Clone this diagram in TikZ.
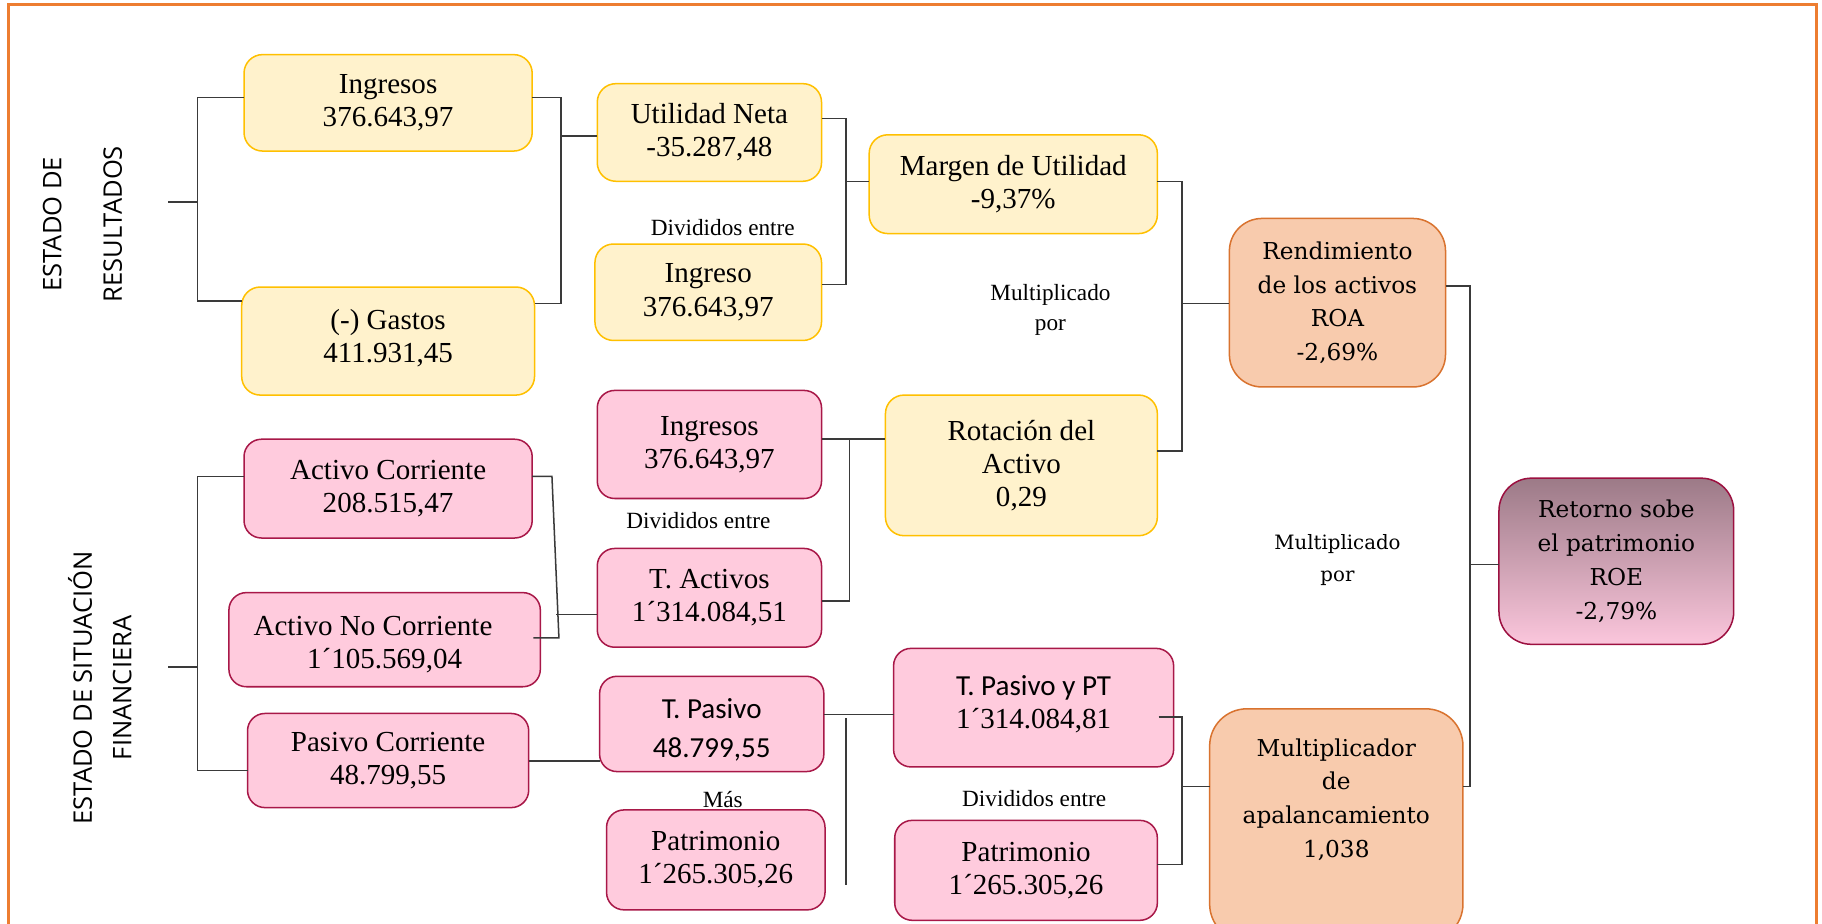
\documentclass[tikz,border=0pt]{standalone}
\usepackage{fontspec}
\setmainfont{Liberation Serif}
\newfontfamily\carl{Carlito}
\newfontfamily\dvs{DejaVu Serif}
\newfontfamily\osans{Open Sans}
\usetikzlibrary{calc}
\definecolor{yelFill}{HTML}{FFF2CC}
\definecolor{yelDraw}{HTML}{FFC000}
\definecolor{pinkFill}{HTML}{FFCBDD}
\definecolor{pinkDraw}{HTML}{A81848}
\definecolor{peachFill}{HTML}{F8CBAD}
\definecolor{peachDraw}{HTML}{D9732F}
\definecolor{roeTop}{HTML}{9C7A87}
\definecolor{roeBot}{HTML}{FBC6DC}
\definecolor{roeDraw}{HTML}{9C1040}
\definecolor{frameCol}{HTML}{ED7D31}
\definecolor{lineCol}{HTML}{3A3A3A}
\tikzset{
  basebox/.style={inner sep=0pt, outer sep=0pt, align=center, line width=1.3pt,
    font=\fontsize{25}{28.5}\selectfont},
  ybox/.style={basebox, fill=yelFill, draw=yelDraw, rounded corners=16pt},
  pbox/.style={basebox, fill=pinkFill, draw=pinkDraw, rounded corners=15pt},
  obox/.style={basebox, fill=peachFill, draw=peachDraw, rounded corners=28pt,
    font=\dvs\fontsize{20}{29}\selectfont},
  conn/.style={draw=lineCol, line width=1.3pt},
  lbl/.style={inner sep=0pt, align=center, font=\fontsize{20}{26}\selectfont},
  lblb/.style={inner sep=0pt, align=center, font=\dvs\fontsize{17}{27}\selectfont},
}
\begin{document}
\begin{tikzpicture}[x=1pt,y=-1pt]
\useasboundingbox (0,0) rectangle (1568,795);
\clip (0,0) rectangle (1568,795);
\fill[white] (0,0) rectangle (1568,795);
\draw[frameCol, line width=2.6pt] (7,4) rectangle (1563,830);

% vertical section labels
\node[rotate=90, inner sep=0pt, align=center, font=\osans\fontsize{22}{52}\selectfont] (er) at (71,193) {ESTADO DE\\RESULTADOS};
\node[rotate=90, inner sep=0pt, align=center, font=\osans\fontsize{22}{34}\selectfont] (esf) at (86,592) {ESTADO DE SITUACIÓN\\FINANCIERA};

% yellow boxes
\node[ybox, minimum width=248pt, minimum height=83pt] (ing1) at (334,88.5) {Ingresos\\376.643,97};
\node[ybox, minimum width=252pt, minimum height=93pt] (gas) at (334,293.5) {(-) Gastos\\411.931,45\\[-19pt]\mbox{}};
\node[ybox, minimum width=193pt, minimum height=84pt] (utn) at (610.5,114) {Utilidad Neta\\-35.287,48};
\node[ybox, minimum width=195pt, minimum height=83pt] (ing2) at (609.5,251.5) {Ingreso\\376.643,97};
\node[ybox, minimum width=248pt, minimum height=85pt] (mar) at (872,158.5) {Margen de Utilidad\\-9,37\%};
\node[ybox, minimum width=234pt, minimum height=121pt] (rot) at (879,400.5) {Rotación del\\Activo\\0,29};

% pink boxes
\node[pbox, minimum width=193pt, minimum height=93pt] (ing3) at (610.5,382.5) {Ingresos\\376.643,97};
\node[pbox, minimum width=193pt, minimum height=85pt] (tac) at (610.5,514.5) {T. Activos\\1´314.084,51};
\node[pbox, minimum width=248pt, minimum height=85pt] (ac) at (334,420.5) {Activo Corriente\\208.515,47};
\node[pbox, minimum width=268pt, minimum height=81pt] (anc) at (331,550.5) {\mbox{}\\[-3.5pt]Activo No Corriente\hspace*{20pt}\mbox{}\\1´105.569,04};
\node[pbox, minimum width=193pt, minimum height=82pt, font=\carl\fontsize{25}{28.5}\selectfont] (tpa) at (612.5,623) {\mbox{}\\[-1pt]T. Pasivo\\[4.5pt]48.799,55};
\node[pbox, minimum width=242pt, minimum height=81pt] (pc) at (334,654.5) {Pasivo Corriente\\48.799,55};
\node[pbox, minimum width=188pt, minimum height=86pt] (pat1) at (616,740) {Patrimonio\\1´265.305,26};
\node[pbox, minimum width=241pt, minimum height=102pt] (tppt) at (889.5,609) {{\carl T. Pasivo y PT}\\1´314.084,81\\[-19pt]\mbox{}};
\node[pbox, minimum width=226pt, minimum height=86pt] (pat2) at (883,749) {Patrimonio\\1´265.305,26};

% orange boxes
\node[obox, minimum width=186pt, minimum height=145pt] (roa) at (1151,260.5) {Rendimiento\\de los activos\\ROA\\-2,69\%};
\node[obox, minimum width=218pt, minimum height=200pt, rounded corners=32pt] (mul) at (1150,710) {};
\node[inner sep=0pt, align=center, font=\dvs\fontsize{20}{29}\selectfont] (multxt) at (1150,688) {Multiplicador\\de\\apalancamiento\\1,038};
\node[obox, minimum width=202pt, minimum height=143pt, draw=roeDraw, top color=roeTop, bottom color=roeBot] (roe) at (1391,483) {Retorno sobe\\el patrimonio\\ROE\\-2,79\%};

% labels
\node[lbl] (d1) at (622,196) {Divididos entre};
\node[lbl] (d2) at (601,448) {Divididos entre};
\node[lbl] (d3) at (890,687) {Divididos entre};
\node[lbl] (mas) at (622,688) {Más};
\node[lbl] (m1) at (904,267) {Multiplicado\\por};
\node[lblb] (m2) at (1151,482) {Multiplicado\\por};

% coordinates
\coordinate (stub1) at (145,174);
\coordinate (br1) at (170,174);
\coordinate (rb1) at (483,117);
\coordinate (c2) at (728,156);
\coordinate (c3) at (1017,261);
\coordinate (c4) at (1265,486);
\coordinate (c5) at (731,378);
\coordinate (c6a) at (475,410);
\coordinate (c6b) at (481,549);
\coordinate (c6m) at (478.5,529);
\coordinate (stub2) at (145,574);
\coordinate (br2) at (170,574);
\coordinate (v1) at (728,618);
\coordinate (v2) at (728,762);
\coordinate (c7) at (1017,677);

% connectors
\draw[conn] (ing1.west |- 0,84) -| (br1) |- (gas.west |- 0,259);
\draw[conn] (stub1) -- (br1);
\draw[conn] (ing1.east |- 0,84) -| (rb1) |- (gas.east |- 0,261);
\draw[conn] (rb1) -- (utn.west |- rb1);
\draw[conn] (utn.east |- 0,102) -| (c2) |- (ing2.east |- 0,245);
\draw[conn] (c2) -- (mar.west |- c2);
\draw[conn] (mar.east |- 0,156) -| (c3) |- (rot.east |- 0,388);
\draw[conn] (c3) -- (roa.west |- c3);
\draw[conn] (roa.east |- 0,246) -| (c4) |- (mul.east |- 0,677);
\draw[conn] (c4) -- (roe.west |- c4);
\draw[conn] (ing3.east |- c5) -- (rot.west |- c5);
\draw[conn] (c5) |- (tac.east |- 0,517);
\draw[conn] (ac.east |- c6a) -- (c6a) -- (c6b) -- ($(anc.east |- c6b)+(-6,0)$);
\draw[conn] (c6m) -- (tac.west |- c6m);
\draw[conn] (ac.west |- 0,410) -| (br2) |- (pc.west |- 0,663);
\draw[conn] (stub2) -- (br2);
\draw[conn] (pc.east |- 0,655) -- (tpa.west |- 0,655);
\draw[conn] (tpa.east |- 0,615) -- (tppt.west |- 0,615);
\draw[conn] (v1) -- (v2);
\draw[conn] ($(tppt.east |- 0,617)+(-13,0)$) -| (c7) |- (pat2.east |- 0,744);
\draw[conn] (c7) -- (mul.west |- c7);
\end{tikzpicture}
\end{document}
